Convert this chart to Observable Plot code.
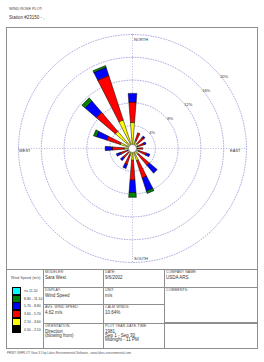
<!DOCTYPE html>
<html><head><meta charset="utf-8">
<script src="https://cdn.jsdelivr.net/npm/d3@7"></script>
<script src="https://cdn.jsdelivr.net/npm/@observablehq/plot@0.6"></script>
<style>
html,body{margin:0;padding:0;background:#fff}
body{width:264px;height:362px;position:relative;overflow:hidden;font-family:"Liberation Sans",Arial,sans-serif;color:#222}
.abs{position:absolute;white-space:nowrap}
.ln{position:absolute;background:#8e8e8e}
.h{position:absolute;font-size:3.5px;letter-spacing:0.1px;color:#444;white-space:nowrap;text-transform:uppercase}
.v{position:absolute;font-size:4.5px;line-height:4.2px;color:#333;white-space:nowrap}
#chart{position:absolute;left:6px;top:27px;width:251px;height:242px}
#chart svg{overflow:visible}
.sw{position:absolute;left:12px;width:9px;box-sizing:border-box;border:0.5px solid #000}
.lab{position:absolute;left:24px;font-size:3.5px;color:#333;white-space:nowrap}
</style></head><body>
<div class="abs" style="left:9px;top:7px;font-size:3.8px;color:#444">WIND ROSE PLOT:</div>
<div class="abs" style="left:9px;top:15px;font-size:4.5px;color:#333">Station #23150 - ,</div>
<div id="chart"></div>
<div id="table"></div>
<div class="abs" style="left:7px;top:350.5px;font-size:3px;color:#555">PRINT: WRPLOT View 3.5 by Lakes Environmental Software - www.lakes-environmental.com</div>
<script>
// ---- data ----
const directions = ["N","NNE","NE","ENE","E","ESE","SE","SSE","S","SSW","SW","WSW","W","WNW","NW","NNW"];
const speedClasses = ["0.50 - 2.10","2.10 - 3.60","3.60 - 5.70","5.70 - 8.80","8.80 - 11.10",">= 11.10"];
const classColors = ["#000000","#ffff00","#ff0000","#0000ff","#008000","#00ffff"];
// frequency (%) per direction for each speed class
const freqClass1 = [0.5,0.4,0.4,0.3,0.3,0.3,0.4,0.5,0.5,0.4,0.3,0.3,0.4,0.4,0.5,0.5];
const freqClass2 = [4.1,1.1,0.8,0.7,0.6,0.9,1.0,1.8,1.6,0.9,0.7,0.7,1.1,1.9,3.5,4.8];
const freqClass3 = [3.6,1.4,1.4,1.2,0.9,1.4,2.5,3.2,3.5,1.7,1.2,1.3,2.1,2.5,4.4,8.2];
const freqClass4 = [1.5,0.0,0.3,0.3,0.0,0.6,1.8,2.4,2.2,0.7,0.6,0.7,1.2,1.9,2.6,1.5];
const freqClass5 = [0.0,0.0,0.0,0.0,0.0,0.0,0.0,0.4,0.8,0.0,0.0,0.0,0.0,0.5,0.7,0.3];
const freqClass6 = [0,0,0,0,0,0,0,0,0,0,0,0,0,0,0,0];
const ringValues = [4,8,12,16,20];
const ringLabels = ["4%","8%","12%","16%","20%"];
const compassLabels = ["NORTH","EAST","SOUTH","WEST"];
const calmWinds = 10.64;

const freqs = [freqClass1,freqClass2,freqClass3,freqClass4,freqClass5,freqClass6];
const rad = Math.PI/180;
const half = 4.5; // half wedge width in degrees

// build wedge polygons
const segments = [];
directions.forEach((d,i)=>{
  const th = i*22.5;
  let cum = 0;
  freqs.forEach((f,k)=>{
    const v = f[i];
    if (v>0){
      const r0=cum, r1=cum+v, id=d+"-"+k;
      [[r0,th-half],[r1,th-half],[r1,th+half],[r0,th+half]].forEach(([r,a])=>{
        segments.push({id,k,x:r*Math.sin(a*rad),y:r*Math.cos(a*rad)});
      });
      cum = r1;
    }
  });
});

const ringPts = [];
ringValues.forEach(rv=>{
  for(let a=0;a<=360;a+=3) ringPts.push({ring:rv,x:rv*Math.sin(a*rad),y:rv*Math.cos(a*rad)});
});
const outer = ringValues[ringValues.length-1];
const K = 5.7, W = 251, H = 242, cx = 126, cy = 121;
const gridColor = "#9a9ad8";

const marks = [
  Plot.line(ringPts,{x:"x",y:"y",z:"ring",stroke:gridColor,strokeWidth:0.8,strokeDasharray:"0.9,1.7"}),
  Plot.ruleX([0],{y1:-outer,y2:outer,stroke:gridColor,strokeWidth:0.8,strokeDasharray:"0.9,1.7"}),
  Plot.ruleY([0],{x1:-outer,x2:outer,stroke:gridColor,strokeWidth:0.8,strokeDasharray:"0.9,1.7"}),
  ...classColors.map((c,k)=>Plot.line(segments.filter(s=>s.k===k),{x:"x",y:"y",z:"id",fill:c,stroke:"#000",strokeWidth:0.5,curve:"linear-closed",strokeLinejoin:"miter"})),
  Plot.dot([calmWinds],{x:()=>0,y:()=>0,r:4,fill:"#fff",stroke:"#666",strokeWidth:0.6}),
  Plot.text(ringValues,{x:d=>(d+0.4)*Math.sin(52*rad),y:d=>(d+0.4)*Math.cos(52*rad),text:(d,i)=>ringLabels[i],fontSize:4,fill:"#333"}),
  Plot.text([compassLabels[0]],{x:()=>0,y:()=>outer,text:d=>d,dx:1.5,dy:5,textAnchor:"start",fontSize:4,fill:"#333"}),
  Plot.text([compassLabels[1]],{x:()=>outer,y:()=>0,text:d=>d,dx:-6,dy:2.5,textAnchor:"end",fontSize:4,fill:"#333"}),
  Plot.text([compassLabels[2]],{x:()=>0,y:()=>-outer,text:d=>d,dx:1.5,dy:-4,textAnchor:"start",fontSize:4,fill:"#333"}),
  Plot.text([compassLabels[3]],{x:()=>-outer,y:()=>0,text:d=>d,dx:0.5,dy:2.5,textAnchor:"start",fontSize:4,fill:"#333"})
];

const chart = Plot.plot({
  width:W,height:H,margin:0,
  x:{domain:[-cx/K,(W-cx)/K],axis:null},
  y:{domain:[-(H-cy)/K,cy/K],axis:null},
  style:{background:"transparent",fontFamily:"Liberation Sans, Arial, sans-serif"},
  marks
});
document.getElementById("chart").appendChild(chart);

// ---- frame & table ----
const tb = document.getElementById("table");
function line(x,y,w,h){const e=document.createElement("div");e.className="ln";Object.assign(e.style,{left:x+"px",top:y+"px",width:w+"px",height:h+"px"});tb.appendChild(e);}
function txt(cls,x,y,s){const e=document.createElement("div");e.className=cls;e.style.left=x+"px";e.style.top=y+"px";e.innerHTML=s;tb.appendChild(e);}
line(6,27,252,1); line(6,348,252,1); line(6,27,1,322); line(257,27,1,322);
line(6,269,252,1);
line(43,269,1,79); line(103,269,1,79); line(164,269,1,79);
line(43,287,121,1); line(43,304,121,1); line(43,323,121,1);
line(164,287,94,1); line(164,322,94,1.6);

txt("h",11,275.5,"<span style='text-transform:none'>Wind Speed (m/s)</span>");
// legend (top = highest class)
for(let k=speedClasses.length-1, j=0;k>=0;k--,j++){
  const s=document.createElement("div");s.className="sw";
  Object.assign(s.style,{top:(287+j*7.7)+"px",height:"7.9px",background:classColors[k]});tb.appendChild(s);
  const l=document.createElement("div");l.className="lab";l.style.top=(287+j*7.7+2)+"px";l.textContent=speedClasses[k];tb.appendChild(l);
}
const cells = [
  [45,269,"Modeler:",["Sara West"]],
  [45,287,"Display:",["Wind Speed"]],
  [45,304,"Avg. Wind Speed:",["4.62 m/s"]],
  [45,323,"Orientation:",["Direction","(blowing from)"]],
  [105,269,"Date:",["9/6/2002"]],
  [105,287,"Unit:",["m/s"]],
  [105,304,"Calm Winds:",["10.64%"]],
  [105,323,"Plot Year-Date-Time:",["1981","Sep 1 - Sep 30","Midnight - 11 PM"]],
  [166,269,"Company Name:",["USDA ARS"]],
  [166,287,"Comments:",[]]
];
cells.forEach(([x,y,h,vals])=>{
  txt("h",x,y+1.2,h);
  vals.forEach((v,i)=>txt("v",x,y+6.5+i*4.2,v));
});
</script>
</body></html>
